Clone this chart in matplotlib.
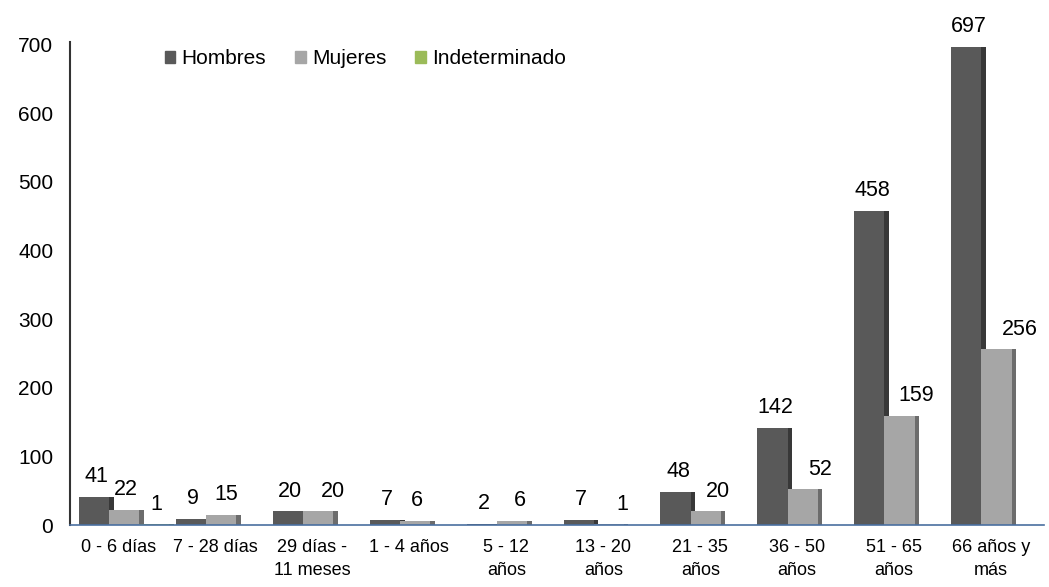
import matplotlib.pyplot as plt
from matplotlib.patches import Patch
import numpy as np

plt.rcParams['font.family'] = ['Liberation Sans', 'DejaVu Sans']

categorias = ['0 - 6 días', '7 - 28 días', '29 días -\n11 meses', '1 - 4 años', '5 - 12\naños',
              '13 - 20\naños', '21 - 35\naños', '36 - 50\naños', '51 - 65\naños', '66 años y\nmás']
hombres = [41, 9, 20, 7, 2, 7, 48, 142, 458, 697]
mujeres = [22, 15, 20, 6, 6, 1, 20, 52, 159, 256]
indeterminado = [1, 0, 0, 0, 0, 0, 0, 0, 0, 0]

# desplazamiento horizontal de las etiquetas de Mujeres (en puntos)
nudge_mujeres = [0, 2, 9, 0, 4, 8, 7, 11, 10, 15]

series = [
    ('Hombres', hombres, '#595959', '#383838', -0.23, [0] * 10),
    ('Mujeres', mujeres, '#a6a6a6', '#6c6c6c', 0.08, nudge_mujeres),
    ('Indeterminado', indeterminado, '#9bbb59', '#76923c', 0.39, [0] * 10),
]

fig = plt.figure(figsize=(10.49, 5.87), dpi=100)
ax = fig.add_axes([0.0667, 0.1056, 0.929, 0.8228])

x = np.arange(len(categorias))
w = 0.36
strip = 0.05
for nombre, vals, color, oscuro, off, nud in series:
    for xi, v, dx in zip(x, vals, nud):
        if v == 0:
            continue
        ax.bar(xi + off, v, width=w, color=color, zorder=2)
        ax.bar(xi + off + w / 2 - strip / 2, v, width=strip, color=oscuro, zorder=2)
        ax.annotate(str(v), (xi + off, v), xytext=(dx, 7), textcoords='offset points',
                    ha='center', va='bottom', fontsize=15.5)

ax.set_xlim(-0.5, len(categorias) - 0.45)
ax.set_ylim(0, 704)
ax.set_yticks(range(0, 701, 100))
ax.set_xticks(x)
ax.set_xticklabels(categorias, fontsize=13, linespacing=1.5)
ax.tick_params(axis='y', labelsize=15, length=0, pad=12)
ax.tick_params(axis='x', length=0, pad=10)

for s in ['top', 'right']:
    ax.spines[s].set_visible(False)
ax.spines['left'].set_color('#333333')
ax.spines['left'].set_linewidth(1.5)
ax.spines['bottom'].set_color('#4a6fa0')
ax.spines['bottom'].set_linewidth(1.2)

handles = [Patch(color=s[2]) for s in series]
fig.legend(handles, [s[0] for s in series], loc='center left', bbox_to_anchor=(0.157, 0.9),
           bbox_transform=fig.transFigure, ncol=3, frameon=False, fontsize=15,
           handlelength=0.5, handleheight=0.5, handletextpad=0.3, columnspacing=1.4,
           borderpad=0, borderaxespad=0)

fig.savefig('out.png', dpi=100)
